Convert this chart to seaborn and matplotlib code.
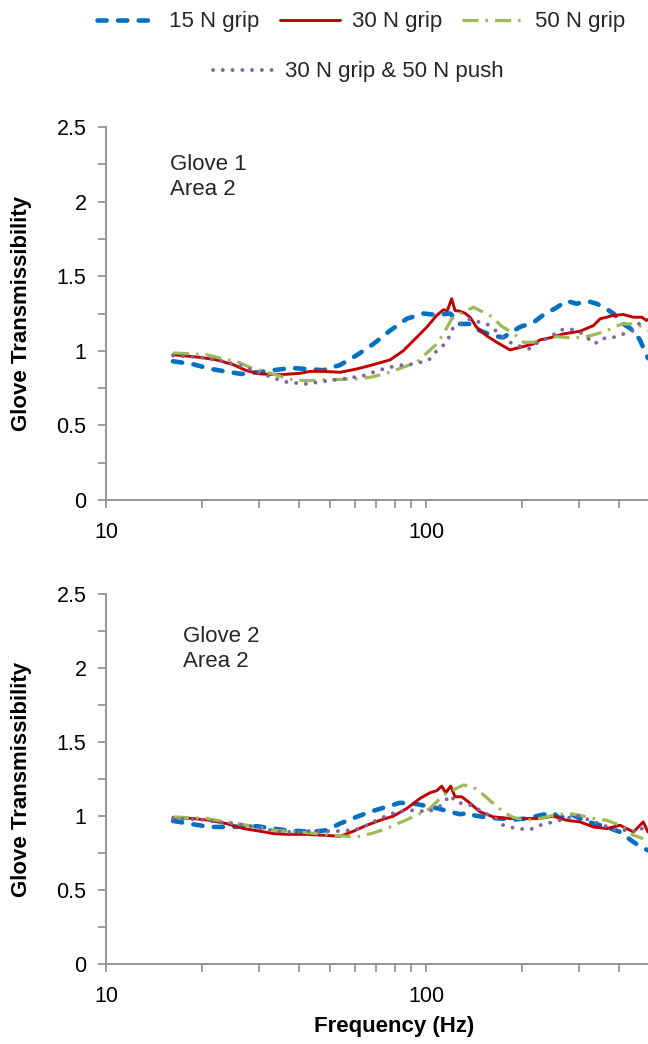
import matplotlib
matplotlib.use("Agg")
import matplotlib.pyplot as plt
import seaborn as sns
from matplotlib.ticker import FixedLocator, LogLocator, MultipleLocator, FuncFormatter

sns.set_theme(style="white")
plt.rcParams["font.family"] = ["Liberation Sans", "DejaVu Sans"]

series_names = ["15 N grip", "30 N grip", "50 N grip", "30 N grip & 50 N push"]

# ---- Glove 1, Area 2 ----
g1_f15 = [16.2, 18.7, 21.1, 23.8, 26.5, 29.6, 33.3, 38.0, 47.7, 53.9, 60.7, 68.4, 77.2, 87.1,
          98.2, 108, 118.9, 127.7, 137.3, 147.5, 162.3, 174.4, 196.7, 216.5, 232.6, 256, 275,
          296, 318, 342, 367, 385, 414, 445, 467, 484, 494]
g1_v15 = [0.93, 0.91, 0.88, 0.86, 0.845, 0.855, 0.87, 0.885, 0.87, 0.905, 0.97, 1.045, 1.135, 1.215,
          1.25, 1.24, 1.25, 1.18, 1.18, 1.135, 1.10, 1.09, 1.16, 1.19, 1.24, 1.29, 1.335,
          1.315, 1.335, 1.315, 1.28, 1.25, 1.18, 1.135, 1.07, 0.99, 0.95]

g1_f30 = [16.2, 19.7, 22.2, 25.0, 27.5, 30.3, 35.0, 40.4, 43.4, 47.7, 53.9, 60.7, 68.4, 77.2,
          84.9, 93.5, 100.5, 108, 113.3, 116.6, 120.3, 123.2, 127.7, 132.4, 137.3, 143.9, 154.8,
          166.4, 183, 196.7, 216.5, 227, 244, 268.6, 302.8, 333.6, 349.9, 384.9, 414, 445, 472,
          489, 494]
g1_v30 = [0.974, 0.956, 0.939, 0.907, 0.867, 0.845, 0.840, 0.849, 0.862, 0.862, 0.856, 0.878, 0.907,
          0.939, 1.0, 1.09, 1.158, 1.237, 1.275, 1.27, 1.349, 1.27, 1.265, 1.252, 1.225, 1.158,
          1.10, 1.057, 1.006, 1.023, 1.046, 1.073, 1.087, 1.113, 1.131, 1.169, 1.214, 1.237,
          1.243, 1.225, 1.225, 1.203, 1.21]

g1_f50 = [16.2, 20.6, 23.3, 25.6, 28.2, 31.8, 38.5, 43.4, 49.0, 60.7, 66.8, 75.3, 93.5, 108,
          113.3, 120.3, 127.7, 140.6, 151.1, 160.3, 172.5, 187.5, 201.5, 216.5, 238.4, 256,
          281.8, 310.2, 341.6, 367, 409.8, 445, 477.3, 494]
g1_v50 = [0.986, 0.974, 0.946, 0.929, 0.889, 0.856, 0.804, 0.80, 0.806, 0.811, 0.822, 0.849, 0.923,
          1.046, 1.113, 1.214, 1.248, 1.292, 1.259, 1.23, 1.163, 1.118, 1.057, 1.057, 1.08,
          1.095, 1.087, 1.09, 1.113, 1.136, 1.18, 1.18, 1.158, 1.136]

g1_fpush = [16.2, 19.7, 23.3, 26.2, 29.6, 33.3, 37.1, 40.4, 42.4, 47.7, 56.5, 63.7, 71.8, 80.9,
            91.2, 101.6, 108, 116.1, 121.7, 130.8, 137.3, 147.5, 154.8, 162.3, 170.3, 176.6,
            185.4, 201.5, 211.3, 227, 244, 262, 281.8, 302.8, 317.8, 337.5, 349.9, 384.9, 414,
            445, 472, 489]
g1_vpush = [0.968, 0.956, 0.929, 0.90, 0.86, 0.818, 0.788, 0.782, 0.778, 0.795, 0.815, 0.833, 0.872,
            0.90, 0.912, 0.934, 1.0, 1.057, 1.158, 1.185, 1.214, 1.19, 1.18, 1.147, 1.113, 1.08,
            1.05, 1.023, 1.013, 1.068, 1.09, 1.14, 1.147, 1.124, 1.09, 1.046, 1.08, 1.09, 1.113,
            1.136, 1.203, 1.214]

# ---- Glove 2, Area 2 ----
g2_f15 = [16.2, 18.7, 21.1, 23.8, 29.6, 33.3, 37.6, 40.4, 43.4, 49.0, 53.9, 60.7, 66.8, 75.3,
          82.9, 91.2, 100.5, 109.2, 118.9, 127.7, 137.3, 140.6, 154.8, 170.3, 187.5, 206.3, 227,
          250, 262, 278.4, 302.8, 333.6, 367, 403.9, 445, 472, 494]
g2_v15 = [0.967, 0.944, 0.926, 0.926, 0.931, 0.915, 0.899, 0.899, 0.892, 0.904, 0.949, 0.994, 1.028,
          1.062, 1.089, 1.085, 1.067, 1.051, 1.028, 1.012, 1.021, 1.005, 0.99, 0.983, 0.976,
          0.983, 1.005, 1.021, 0.983, 1.021, 0.983, 0.949, 0.926, 0.892, 0.824, 0.79, 0.768]

g2_f30 = [16.2, 18.7, 21.1, 23.8, 26.9, 30.3, 33.3, 36.7, 40.4, 42.4, 47.7, 53.9, 59.3, 65.3,
          71.8, 79.0, 87.1, 95.8, 102.9, 108, 112.0, 115.2, 119.5, 123.2, 129.3, 135.6, 147.5,
          162.3, 183, 206.3, 227, 250, 275.3, 302.8, 333.6, 367, 403.9, 445, 477.3, 494]
g2_v30 = [0.99, 0.983, 0.971, 0.949, 0.915, 0.897, 0.881, 0.876, 0.876, 0.876, 0.87, 0.863, 0.897,
          0.9375, 0.971, 0.999, 1.051, 1.119, 1.157, 1.171, 1.202, 1.157, 1.202, 1.13, 1.13,
          1.096, 1.028, 0.994, 0.983, 0.983, 0.983, 0.999, 0.971, 0.96, 0.926, 0.915, 0.9375,
          0.892, 0.96, 0.892]

g2_f50 = [16.2, 20.6, 25.0, 28.9, 33.3, 40.4, 45.5, 51.3, 60.7, 68.4, 75.3, 84.0, 93.5, 102.9,
          109.2, 116.1, 124.7, 130.8, 139.0, 149.3, 162.3, 174.4, 187.5, 206.3, 227, 250, 275.3,
          302.8, 333.6, 367, 403.9, 445, 477.3]
g2_v50 = [0.994, 0.983, 0.953, 0.931, 0.904, 0.892, 0.881, 0.87, 0.858, 0.885, 0.915, 0.96, 1.005,
          1.051, 1.107, 1.157, 1.187, 1.209, 1.202, 1.153, 1.085, 1.028, 0.99, 0.971, 0.983,
          1.005, 1.017, 1.005, 0.983, 0.971, 0.9375, 0.87, 0.847]

g2_fpush = [16.2, 19.7, 22.2, 25.0, 28.2, 31.8, 35.8, 40.4, 42.4, 49.0, 55.1, 62.2, 71.8, 80.9,
            91.2, 101.6, 112.0, 118.9, 124.7, 132.4, 140.6, 152.9, 162.3, 174.4, 192.1, 211.3,
            227, 250, 275.3, 295.8, 325.5, 358.1, 394.2, 434.2, 466.7, 483.5]
g2_vpush = [0.983, 0.976, 0.96, 0.949, 0.931, 0.908, 0.892, 0.892, 0.899, 0.897, 0.899, 0.915,
            0.983, 1.028, 1.039, 1.028, 1.073, 1.141, 1.089, 1.085, 1.067, 1.017, 0.999, 0.9375,
            0.915, 0.908, 0.9375, 0.96, 0.983, 1.005, 0.971, 0.9375, 0.904, 0.904, 0.892, 0.96]

panel_text = ["Glove 1\nArea 2", "Glove 2\nArea 2"]
y_ticks = [0, 0.5, 1, 1.5, 2, 2.5]
x_major = [10, 100, 1000]

styles = [
    dict(color="#0070C0", lw=3.3, dashes=(2.0, 2.5), cap="round"),
    dict(color="#C00000", lw=2.1, dashes=None, cap="butt"),
    dict(color="#9BBB59", lw=2.3, dashes=(5, 2.2, 0.8, 2.2), cap="butt"),
    dict(color="#8064A2", lw=2.8, dashes=(0.01, 2.5), cap="round"),
]

W, H = 648, 1044
fig = plt.figure(figsize=(W / 100, H / 100), dpi=100)
ax1 = fig.add_axes([106 / W, 1 - 500 / H, (W - 106) / W, 373 / H])
ax2 = fig.add_axes([106 / W, 1 - 964 / H, (W - 106) / W, 370 / H])

panels = [
    (ax1, [(g1_f15, g1_v15), (g1_f30, g1_v30), (g1_f50, g1_v50), (g1_fpush, g1_vpush)]),
    (ax2, [(g2_f15, g2_v15), (g2_f30, g2_v30), (g2_f50, g2_v50), (g2_fpush, g2_vpush)]),
]

axis_grey = "#8C8C8C"
handles = []
for ax, data in panels:
    for (fx, vy), name, st in zip(data, series_names, styles):
        sns.lineplot(x=fx, y=vy, ax=ax, color=st["color"], linewidth=st["lw"],
                     estimator=None, sort=False, legend=False, label=name)
        line = ax.lines[-1]
        if st["dashes"] is not None:
            line.set_dashes(st["dashes"])
            line.set_dash_capstyle(st["cap"])
        else:
            line.set_solid_capstyle("round")
            line.set_solid_joinstyle("round")
        if ax is ax1:
            handles.append(line)

    ax.set_xscale("log")
    ax.set_xlim(10, 494)
    ax.set_ylim(0, 2.5)
    ax.xaxis.set_major_locator(FixedLocator(x_major))
    ax.xaxis.set_minor_locator(LogLocator(base=10, subs=[2, 3, 4, 5, 6, 7, 8, 9]))
    ax.xaxis.set_major_formatter(FuncFormatter(lambda v, p: f"{v:g}"))
    ax.xaxis.set_minor_formatter(FuncFormatter(lambda v, p: ""))
    ax.yaxis.set_major_locator(FixedLocator(y_ticks))
    ax.yaxis.set_minor_locator(MultipleLocator(0.25))
    ax.yaxis.set_major_formatter(FuncFormatter(lambda v, p: f"{v:g}"))

    for side in ("top", "right"):
        ax.spines[side].set_visible(False)
    for side in ("left", "bottom"):
        ax.spines[side].set_color(axis_grey)
        ax.spines[side].set_linewidth(1.3)

    ax.tick_params(axis="both", which="both", direction="out", length=6, width=1.2,
                   color=axis_grey, bottom=True, left=True, labelcolor="black")
    ax.tick_params(axis="y", which="major", labelsize=15.5, pad=8)
    ax.tick_params(axis="x", which="major", labelsize=15.5, pad=10)

    ax.set_ylabel("Glove Transmissibility", fontsize=16, fontweight="bold", color="black")
    ax.yaxis.set_label_coords(-0.137, 0.5)
    ax.set_xlabel("")
    ax.set_facecolor("white")

ax2.set_xlabel("Frequency (Hz)", fontsize=16, fontweight="bold", color="black")
ax2.xaxis.set_label_coords((394 - 106) / (W - 106), -0.14)

fig.text(170 / W, 1 - 154 / H, panel_text[0], fontsize=16, va="top", ha="left",
         linespacing=1.25)
fig.text(183 / W, 1 - 626 / H, panel_text[1], fontsize=16, va="top", ha="left",
         linespacing=1.25)

leg_kw = dict(frameon=False, fontsize=16, handlelength=2.7, handletextpad=0.55,
              columnspacing=0.9, loc="center", borderaxespad=0, borderpad=0)
fig.legend(handles[:3], series_names[:3], ncol=3, bbox_to_anchor=(361 / W, 1 - 22 / H), **leg_kw)
fig.legend(handles[3:], series_names[3:], ncol=1, bbox_to_anchor=(358 / W, 1 - 72 / H), **leg_kw)

fig.savefig("out.png", dpi=100, facecolor="white")
